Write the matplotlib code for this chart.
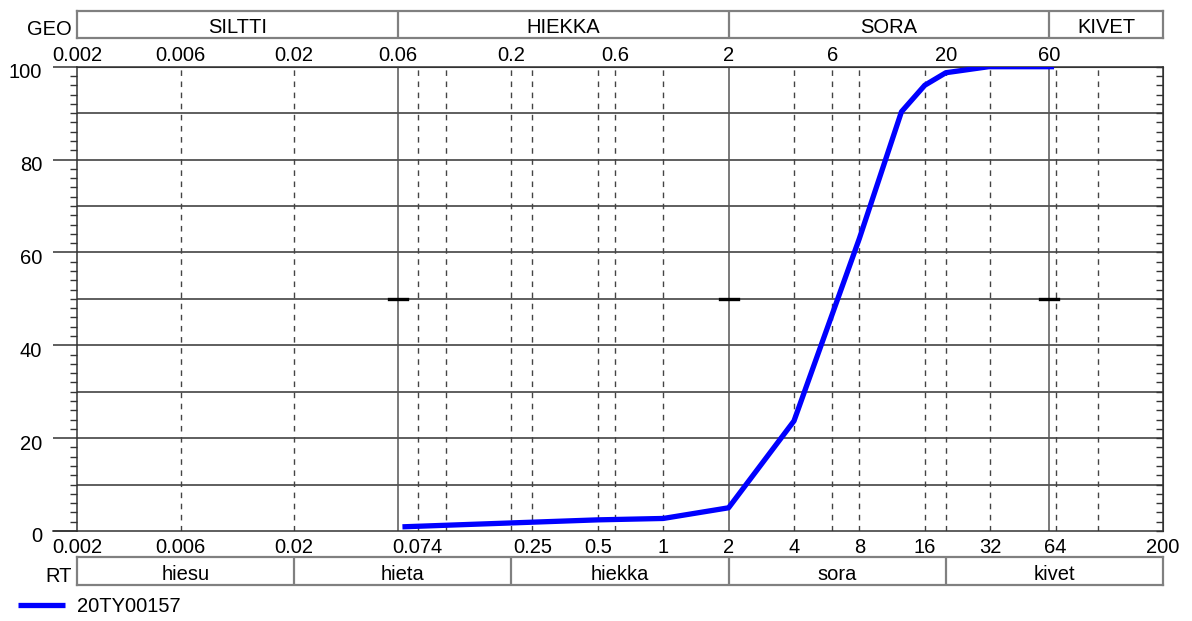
import matplotlib
matplotlib.use("Agg")
import matplotlib.pyplot as plt
from matplotlib.ticker import NullLocator, FixedLocator
from matplotlib.transforms import ScaledTranslation

plt.rcParams['font.family'] = ['Liberation Sans', 'DejaVu Sans']
plt.rcParams['font.size'] = 14.5

# sieve data (mm, % passing)
sizes = [0.063, 0.125, 0.25, 0.5, 1, 2, 4, 8, 12.5, 16, 20, 31.5, 63]
passing = [0.9, 1.4, 1.9, 2.4, 2.7, 5.0, 23.7, 63.0, 90.3, 96.0, 98.7, 100, 100]
sample = '20TY00157'

top_ticks = [0.002, 0.006, 0.02, 0.06, 0.2, 0.6, 2, 6, 20, 60]
top_labels = ['0.002', '0.006', '0.02', '0.06', '0.2', '0.6', '2', '6', '20', '60']
bottom_ticks = [0.002, 0.006, 0.02, 0.074, 0.25, 0.5, 1, 2, 4, 8, 16, 32, 64, 200]
bottom_labels = ['0.002', '0.006', '0.02', '0.074', '0.25', '0.5', '1', '2', '4',
                 '8', '16', '32', '64', '200']
dashed_x = [0.006, 0.02, 0.074, 0.1, 0.2, 0.25, 0.5, 0.6, 1, 4, 6, 8, 16, 20, 32, 64, 100]
solid_x = [0.06, 2, 60]

geo_edges = [0.002, 0.06, 2, 60, 200]
geo_names = ['SILTTI', 'HIEKKA', 'SORA', 'KIVET']
rt_edges = [0.002, 0.02, 0.2, 2, 20, 200]
rt_names = ['hiesu', 'hieta', 'hiekka', 'sora', 'kivet']

W, H = 1192, 621
fig = plt.figure(figsize=(W / 100, H / 100), dpi=100)


def rect(x0, x1, ytop, ybot):
    return [x0 / W, 1 - ybot / H, (x1 - x0) / W, (ybot - ytop) / H]


ax = fig.add_axes(rect(77, 1163, 66.7, 531))
ax.set_xscale('log')
ax.set_xlim(0.002, 200)
ax.set_ylim(0, 100)

for y in range(10, 100, 10):
    ax.axhline(y, color='#333333', lw=1.1, zorder=1)
for x in dashed_x:
    ax.axvline(x, color='#444444', lw=1.0, ls=(0, (4, 4)), zorder=1)
for x in solid_x:
    ax.axvline(x, color='#555555', lw=1.1, zorder=1)
    ax.plot([x / 1.1, x * 1.1], [50, 50], color='black', lw=2.4, zorder=2)

ax.plot(sizes, passing, color='#0000ff', lw=3.8, solid_capstyle='butt', zorder=3)

for s in ax.spines.values():
    s.set_color('#333333')
    s.set_linewidth(1.1)

# y axis: long outward major ticks, short minor ticks
ax.set_yticks([0, 20, 40, 60, 80, 100])
ax.yaxis.set_minor_locator(FixedLocator(range(0, 101, 2)))
ax.tick_params(axis='y', which='major', direction='out', length=17, width=1.1,
               color='#333333', pad=8)
ax.tick_params(axis='y', which='minor', direction='out', length=5, width=1.0,
               color='#333333')
for lab in ax.get_yticklabels():
    lab.set_transform(lab.get_transform() + ScaledTranslation(0, -4 / 100, fig.dpi_scale_trans))

right = ax.secondary_yaxis('right')
right.set_yticks([])
right.yaxis.set_minor_locator(FixedLocator(range(0, 101, 2)))
right.tick_params(which='minor', direction='in', length=5, width=1.0, color='#333333')
right.spines['right'].set_color('#333333')

# x labels on bottom and top
ax.xaxis.set_major_locator(FixedLocator(bottom_ticks))
ax.xaxis.set_minor_locator(NullLocator())
ax.set_xticklabels(bottom_labels)
ax.tick_params(axis='x', length=0, pad=5)

top = ax.secondary_xaxis('top')
top.xaxis.set_major_locator(FixedLocator(top_ticks))
top.xaxis.set_minor_locator(NullLocator())
top.set_xticklabels(top_labels)
top.tick_params(length=0, pad=1)
top.spines['top'].set_color('#333333')

# extend the 0 and 100 lines to the left
ax.plot([-0.022, 0], [100, 100], transform=ax.transAxes, color='#333333', lw=1.1,
        clip_on=False)
ax.plot([-0.022, 0], [0, 0], transform=ax.transAxes, color='#333333', lw=1.1,
        clip_on=False)


def band(r, edges, names, title, ty):
    b = fig.add_axes(r)
    b.set_xscale('log')
    b.set_xlim(edges[0], edges[-1])
    b.set_ylim(0, 1)
    b.set_xticks([])
    b.set_yticks([])
    b.xaxis.set_minor_locator(NullLocator())
    for s in b.spines.values():
        s.set_color('#808080')
        s.set_linewidth(1.6)
    for e in edges[1:-1]:
        b.axvline(e, color='#808080', lw=1.6)
    for lo, hi, n in zip(edges[:-1], edges[1:], names):
        b.text((lo * hi) ** 0.5, 0.04, n, ha='center', va='bottom')
    fig.text(72 / W, 1 - ty / H, title, ha='right', va='center')


band(rect(77, 1163, 11, 38.3), geo_edges, geo_names, 'GEO', 29.5)
band(rect(77, 1163, 557, 585), rt_edges, rt_names, 'RT', 576)

handle, = ax.plot([], [], color='#0000ff', lw=3.8, solid_capstyle='butt')
fig.legend([handle], [sample], loc='center left', bbox_to_anchor=(18 / W, 1 - 607 / H),
           frameon=False, borderpad=0, borderaxespad=0, handlelength=2.35,
           handletextpad=0.6)

fig.savefig('out.png', dpi=100)
